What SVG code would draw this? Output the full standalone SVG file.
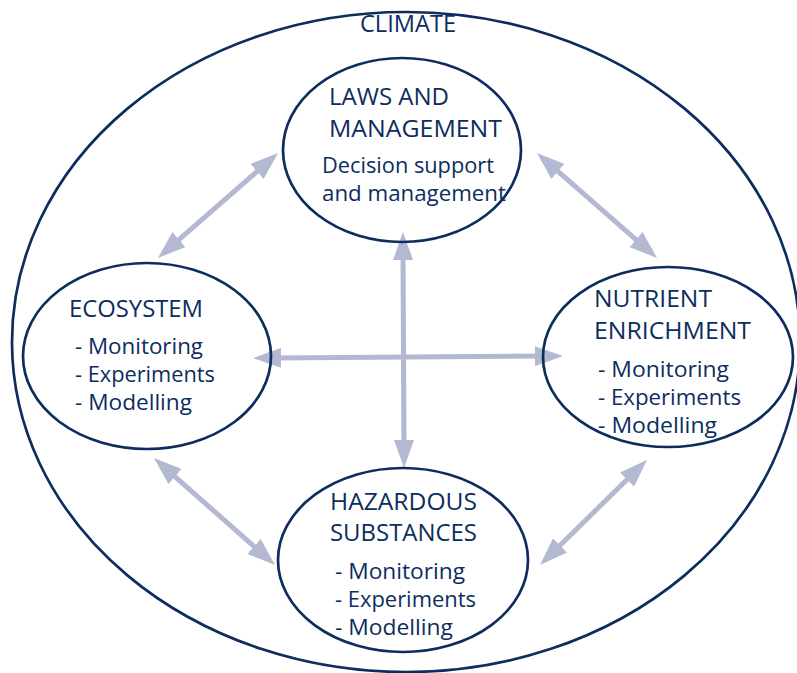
<svg xmlns="http://www.w3.org/2000/svg" width="797" height="673" viewBox="0 0 797 673">
<style>
.ell{fill:none;stroke:#0d2d5e;stroke-width:2.7}
.h{font-family:"Open Sans","Liberation Sans",Arial,sans-serif;font-size:24px;fill:#0d2d5e}
.b{font-family:"Open Sans","Liberation Sans",Arial,sans-serif;font-size:22.5px;fill:#0d2d5e}
.con{fill:none;stroke:#b3b9d1;stroke-width:5;marker-start:url(#ah);marker-end:url(#ah)}
</style>
<defs>
<marker id="ah" viewBox="0 0 28 20" markerWidth="28" markerHeight="20" refX="8" refY="10" orient="auto-start-reverse" markerUnits="userSpaceOnUse">
<path d="M0,0 L28,10 L0,20 z" fill="#b3b9d1"/>
</marker>
</defs>
<rect width="797" height="673" fill="#ffffff"/>
<g id="connectors">
<path class="con" d="M263,166.2 L173,244.8"/>
<path class="con" d="M552,166.2 L642,244.8"/>
<path class="con" d="M169,471.3 L260,551.7"/>
<path class="con" d="M632.7,474 L554.3,551"/>
<path class="con" d="M273,357.9 L543,356.1"/>
<path class="con" d="M403,252 L404,448"/>
</g>
<g id="climate">
<ellipse class="ell" cx="406" cy="342" rx="394" ry="330"/>
<text class="h" x="360" y="32" font-size="23" textLength="96" lengthAdjust="spacingAndGlyphs">CLIMATE</text>
</g>
<g id="laws">
<ellipse class="ell" cx="402" cy="150" rx="119" ry="92"/>
<text class="h" x="329" y="105" textLength="120" lengthAdjust="spacingAndGlyphs">LAWS AND</text>
<text class="h" x="329" y="137" textLength="173" lengthAdjust="spacingAndGlyphs">MANAGEMENT</text>
<text class="b" x="322" y="173" textLength="172" lengthAdjust="spacingAndGlyphs">Decision support</text>
<text class="b" x="322" y="201" textLength="184" lengthAdjust="spacingAndGlyphs">and management</text>
</g>
<g id="ecosystem">
<ellipse class="ell" cx="147" cy="356" rx="124" ry="93"/>
<text class="h" x="69" y="317" textLength="134" lengthAdjust="spacingAndGlyphs">ECOSYSTEM</text>
<text class="b" x="75" y="354" textLength="128" lengthAdjust="spacingAndGlyphs">- Monitoring</text>
<text class="b" x="75" y="382" textLength="140" lengthAdjust="spacingAndGlyphs">- Experiments</text>
<text class="b" x="75" y="410" textLength="117" lengthAdjust="spacingAndGlyphs">- Modelling</text>
</g>
<g id="nutrient">
<ellipse class="ell" cx="668" cy="357" rx="125" ry="90"/>
<text class="h" x="594" y="307" textLength="118" lengthAdjust="spacingAndGlyphs">NUTRIENT</text>
<text class="h" x="594" y="339" textLength="157" lengthAdjust="spacingAndGlyphs">ENRICHMENT</text>
<text class="b" x="598" y="377" textLength="131" lengthAdjust="spacingAndGlyphs">- Monitoring</text>
<text class="b" x="598" y="405" textLength="143" lengthAdjust="spacingAndGlyphs">- Experiments</text>
<text class="b" x="598" y="433" textLength="119" lengthAdjust="spacingAndGlyphs">- Modelling</text>
</g>
<g id="hazardous">
<ellipse class="ell" cx="403" cy="560" rx="125" ry="92"/>
<text class="h" x="330" y="510" textLength="147" lengthAdjust="spacingAndGlyphs">HAZARDOUS</text>
<text class="h" x="330" y="541" textLength="147" lengthAdjust="spacingAndGlyphs">SUBSTANCES</text>
<text class="b" x="335" y="579" textLength="130" lengthAdjust="spacingAndGlyphs">- Monitoring</text>
<text class="b" x="335" y="607" textLength="141" lengthAdjust="spacingAndGlyphs">- Experiments</text>
<text class="b" x="335" y="635" textLength="118" lengthAdjust="spacingAndGlyphs">- Modelling</text>
</g>
</svg>
